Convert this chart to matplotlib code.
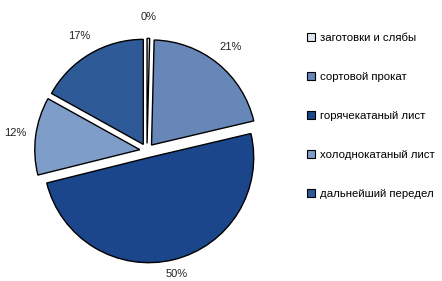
import matplotlib.pyplot as plt
from matplotlib.lines import Line2D

categories = ['заготовки и слябы', 'сортовой прокат', 'горячекатаный лист',
              'холоднокатаный лист', 'дальнейший передел']
shares = [0.4, 21, 50, 12, 17]
colors = ['#dfe5f0', '#6787b9', '#1b468c', '#7f9dc9', '#2f5a98']

plt.rcParams['font.family'] = ['Liberation Sans', 'DejaVu Sans']

fig = plt.figure(figsize=(4.42, 2.81), dpi=100)
ax = fig.add_axes([-0.017, -0.086, 0.699, 1.1])

wedges, texts, autotexts = ax.pie(
    shares, colors=colors, startangle=90, counterclock=False, radius=1.02,
    explode=[0.07] * len(shares), autopct='%1.0f%%', pctdistance=1.2,
    wedgeprops=dict(edgecolor='black', linewidth=1.0),
    textprops=dict(fontsize=8, color='#222222'))
# the bottom label sits a bit closer to its slice
x, y = autotexts[2].get_position()
autotexts[2].set_position((x * 0.95, y * 0.95))
ax.set_xlim(-1.5, 1.5)
ax.set_ylim(-1.5, 1.5)
ax.set_aspect('equal')
ax.axis('off')

handles = [Line2D([], [], marker='s', linestyle='none', markersize=6,
                  markerfacecolor=c, markeredgecolor='black', markeredgewidth=0.8)
           for c in colors]
fig.legend(handles, categories, loc='upper left', bbox_to_anchor=(0.683, 0.9),
           frameon=False, fontsize=8.2, labelspacing=2.55, handlelength=0.8,
           handletextpad=0.35, borderaxespad=0)

fig.savefig('out.png', dpi=100)
